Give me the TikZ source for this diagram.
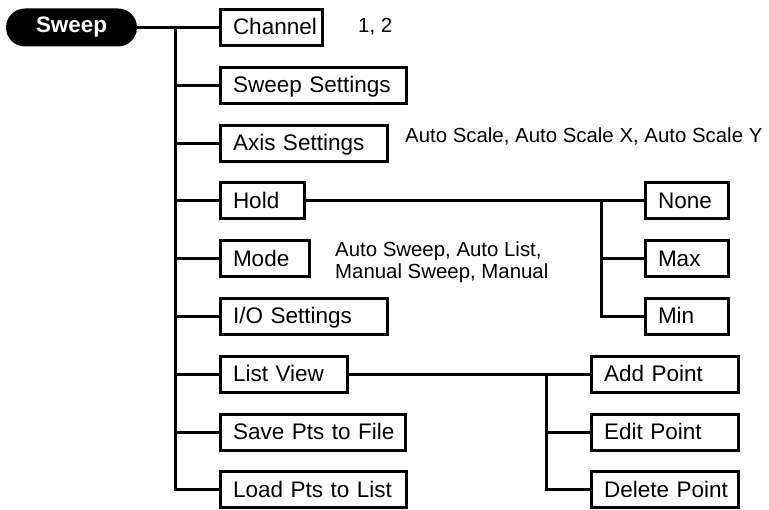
\documentclass[tikz,border=0pt]{standalone}
\usepackage{fontspec}
\setmainfont{Liberation Sans}

\begin{document}
\begin{tikzpicture}[x=1pt,y=-1pt,
  menuitem/.style={draw, line width=3pt, anchor=west, minimum height=36pt,
    inner xsep=0pt, inner ysep=0pt, text width=#1, align=left,
    text height=17pt, text depth=2pt,
    font=\fontsize{22.5}{26}\selectfont,
    execute at begin node=\hspace*{13pt}},
  note/.style={anchor=west, inner sep=0pt, align=left,
    font=\fontsize{20.4}{22.5}\selectfont},
  link/.style={line width=3pt}]
\useasboundingbox (0,0) rectangle (769,510);

% ---------- root ----------
\node[fill=black, text=white, rounded corners=19pt, minimum width=131pt,
  minimum height=38pt, inner sep=0pt,
  font=\fontsize{22.4}{26}\selectfont\bfseries] (sweep) at (71.5,27.5) {Sweep};

% ---------- first level ----------
\node[menuitem=102] (channel)  at (218.5, 27.5) {Channel};
\node[menuitem=186] (sweepset) at (218.5, 85.3) {Sweep Settings};
\node[menuitem=167] (axis)     at (218.5,143.1) {Axis Settings};
\node[menuitem=84]  (hold)     at (218.5,200.9) {Hold};
\node[menuitem=89]  (mode)     at (218.5,258.7) {Mode};
\node[menuitem=167] (io)       at (218.5,316.5) {I/O Settings};
\node[menuitem=127] (listview) at (218.5,374.3) {List View};
\node[menuitem=185] (savepts)  at (218.5,432.1) {Save Pts to File};
\node[menuitem=186] (loadpts)  at (218.5,489.9) {Load Pts to List};

% ---------- options ----------
\node[note] (chnote)   at (358,27)  {1, 2};
\node[note] (axisnote) at (405,136) {Auto Scale, Auto Scale X, Auto Scale Y};
\node[note] (modenote) at (335,262) {Auto Sweep, Auto List,\\Manual Sweep, Manual};

% ---------- hold submenu ----------
\node[menuitem=83] (none) at (643.5,200.9) {None};
\node[menuitem=83] (max)  at (643.5,258.7) {Max};
\node[menuitem=83] (min)  at (643.5,316.5) {Min};

% ---------- list view submenu ----------
\node[menuitem=147] (addpt)  at (589.5,374.3) {Add Point};
\node[menuitem=147] (editpt) at (589.5,432.1) {Edit Point};
\node[menuitem=147] (delpt)  at (589.5,489.9) {Delete Point};

% ---------- connectors ----------
\coordinate (trunk) at (175,27.5);
\draw[link] (sweep) -- (channel);
\foreach \n in {sweepset,axis,hold,mode,io,listview,savepts,loadpts}
  \draw[link] (trunk) |- (\n.west);

\coordinate (holdfork) at (601,200.9);
\draw[link] (hold) -- (none);
\foreach \n in {max,min}
  \draw[link] (holdfork) |- (\n.west);

\coordinate (listfork) at (546,374.3);
\draw[link] (listview) -- (addpt);
\foreach \n in {editpt,delpt}
  \draw[link] (listfork) |- (\n.west);

\end{tikzpicture}
\end{document}
